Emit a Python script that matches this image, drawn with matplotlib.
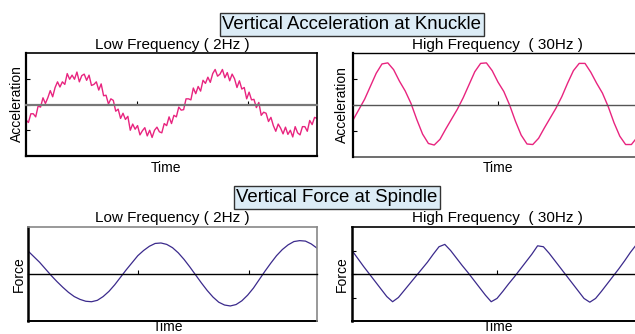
import numpy as np
import matplotlib
matplotlib.use("Agg")
from matplotlib import pyplot as plt

plt.rcParams['font.family'] = ['Liberation Sans', 'DejaVu Sans']

W, H = 635, 334

# vertical acceleration at knuckle, 2 Hz (noisy), 121 samples over the window
acc_low = [
    -0.30, -0.35, -0.18, -0.18, -0.24, -0.03, -0.05, 0.13, 0.02, 0.13,
    0.27, 0.15, 0.33, 0.44, 0.34, 0.44, 0.39, 0.60, 0.49, 0.57,
    0.49, 0.63, 0.44, 0.56, 0.59, 0.47, 0.57, 0.37, 0.39, 0.44,
    0.28, 0.40, 0.17, 0.18, 0.01, 0.11, 0.08, -0.13, -0.09, -0.27,
    -0.17, -0.29, -0.23, -0.50, -0.38, -0.48, -0.41, -0.59, -0.51, -0.45,
    -0.61, -0.50, -0.64, -0.50, -0.44, -0.53, -0.55, -0.37, -0.41, -0.24,
    -0.37, -0.21, -0.24, -0.05, -0.11, -0.10, 0.11, 0.11, 0.09, 0.32,
    0.21, 0.35, 0.26, 0.47, 0.41, 0.53, 0.43, 0.60, 0.68, 0.55,
    0.59, 0.68, 0.52, 0.62, 0.46, 0.59, 0.50, 0.33, 0.46, 0.30,
    0.33, 0.11, 0.24, 0.09, 0.10, -0.06, 0.04, -0.21, -0.15, -0.17,
    -0.33, -0.25, -0.41, -0.52, -0.38, -0.46, -0.57, -0.44, -0.58, -0.50,
    -0.63, -0.43, -0.55, -0.59, -0.43, -0.43, -0.52, -0.31, -0.39, -0.25,
    -0.27,
]

# vertical acceleration at knuckle, 30 Hz, 51 samples
acc_high = [
    -0.29, -0.09, 0.11, 0.36, 0.61, 0.79, 0.81, 0.68, 0.46, 0.27,
    0.03, -0.28, -0.56, -0.74, -0.77, -0.66, -0.46, -0.27, -0.08, 0.14,
    0.39, 0.64, 0.80, 0.81, 0.66, 0.44, 0.26, 0.00, -0.31, -0.58,
    -0.75, -0.76, -0.64, -0.44, -0.25, -0.06, 0.16, 0.42, 0.66, 0.80,
    0.80, 0.63, 0.42, 0.23, -0.03, -0.34, -0.60, -0.76, -0.76, -0.62,
    -0.42,
]

# vertical force at spindle, 2 Hz, 51 samples
force_low = [
    0.49, 0.37, 0.25, 0.11, -0.03, -0.16, -0.28, -0.39, -0.48, -0.54,
    -0.58, -0.59, -0.56, -0.48, -0.37, -0.23, -0.07, 0.09, 0.24, 0.39,
    0.50, 0.59, 0.65, 0.66, 0.63, 0.56, 0.45, 0.31, 0.15, -0.02,
    -0.19, -0.35, -0.49, -0.60, -0.66, -0.68, -0.65, -0.57, -0.45, -0.30,
    -0.12, 0.06, 0.23, 0.39, 0.52, 0.62, 0.69, 0.71, 0.70, 0.64,
    0.55,
]

# vertical force at spindle, 30 Hz, 51 samples
force_high = [
    0.50, 0.33, 0.16, 0.00, -0.16, -0.32, -0.48, -0.59, -0.50, -0.35,
    -0.20, -0.05, 0.10, 0.25, 0.42, 0.58, 0.63, 0.50, 0.34, 0.18,
    0.03, -0.13, -0.29, -0.45, -0.59, -0.52, -0.37, -0.21, -0.06, 0.10,
    0.26, 0.42, 0.60, 0.58, 0.44, 0.28, 0.12, -0.04, -0.20, -0.36,
    -0.52, -0.60, -0.52, -0.37, -0.21, -0.05, 0.11, 0.28, 0.46, 0.62,
    0.55,
]

titles = ['Vertical Acceleration at Knuckle', 'Vertical Force at Spindle']
subtitles = ['Low Frequency ( 2Hz )', 'High Frequency  ( 30Hz )']

acc_color = '#e8247f'
force_color = '#3b2a8c'


def px(x0, y_top, x1, y_bot):
    return [x0 / W, 1 - y_bot / H, (x1 - x0) / W, (y_bot - y_top) / H]


def setup(ax, xticks, yticks, zero_style, spines, base_style):
    ax.set_xlim(0, 1)
    ax.set_ylim(-1, 1)
    ax.spines['bottom'].set_position(('data', 0))
    ax.spines['bottom'].set_color(zero_style[0])
    ax.spines['bottom'].set_linewidth(zero_style[1])
    for side, (c, lw) in spines.items():
        ax.spines[side].set_color(c)
        ax.spines[side].set_linewidth(lw)
    ax.axhline(-1, color=base_style[0], lw=base_style[1], clip_on=False)
    ax.set_xticks(xticks)
    ax.set_yticks(yticks)
    ax.set_xticklabels([])
    ax.set_yticklabels([])
    ax.tick_params(axis='both', direction='in', length=3, width=0.8,
                   colors='black')


fig = plt.figure(figsize=(W / 100, H / 100), dpi=100)

ax1 = fig.add_axes(px(26, 53, 317, 156))
ax1.plot(np.linspace(0, 1, len(acc_low)), acc_low, color=acc_color, lw=1.0)
setup(ax1, [0.381, 0.763], [-0.5, 0, 0.5], ('#777777', 1.6),
      {'left': ('black', 1.6), 'top': ('black', 1.2), 'right': ('black', 1.2)},
      ('black', 1.6))

ax2 = fig.add_axes(px(353, 53, 643, 157))
ax2.plot(np.linspace(0, 1, len(acc_high)), acc_high, color=acc_color, lw=1.0)
setup(ax2, [0.5], [-0.5, 0, 0.5], ('#555555', 1.0),
      {'left': ('black', 1.6), 'top': ('black', 1.0), 'right': ('black', 1.0)},
      ('#555555', 1.2))

ax3 = fig.add_axes(px(28, 227, 317, 321))
ax3.plot(np.linspace(0, 1, len(force_low)), force_low, color=force_color, lw=0.9)
setup(ax3, [0.381, 0.763], [], ('black', 1.0),
      {'left': ('black', 1.8), 'top': ('#888888', 1.2), 'right': ('#888888', 1.2)},
      ('black', 1.4))

ax4 = fig.add_axes(px(352, 227, 642, 321))
ax4.plot(np.linspace(0, 1, len(force_high)), force_high, color=force_color, lw=0.9)
setup(ax4, [0.5], [-0.5, 0, 0.5], ('black', 1.0),
      {'left': ('black', 1.8), 'top': ('black', 1.2), 'right': ('black', 1.2)},
      ('black', 1.4))

box = dict(boxstyle='square,pad=0.15', fc='#dcecf6', ec='#333333', lw=1.0)
fig.text(352 / W, 1 - 29 / H, titles[0], ha='center', va='baseline',
         fontsize=13.4, bbox=box)
fig.text(337 / W, 1 - 202 / H, titles[1], ha='center', va='baseline',
         fontsize=13.4, bbox=box)

for y_base in (49, 222):
    fig.text(172 / W, 1 - y_base / H, subtitles[0], ha='center', va='baseline',
             fontsize=11)
    fig.text(497 / W, 1 - y_base / H, subtitles[1], ha='center', va='baseline',
             fontsize=11)

for x, y in ((166, 172), (498, 172), (168, 331), (498, 331)):
    fig.text(x / W, 1 - y / H, 'Time', ha='center', va='baseline', fontsize=10)

for x, y, s in ((17, 104, 'Acceleration'), (342, 105, 'Acceleration'),
                (19, 274, 'Force'), (342, 274, 'Force')):
    fig.text(x / W, 1 - y / H, s, ha='center', va='center', rotation=90,
             fontsize=10)

fig.savefig('out.png', dpi=100)
